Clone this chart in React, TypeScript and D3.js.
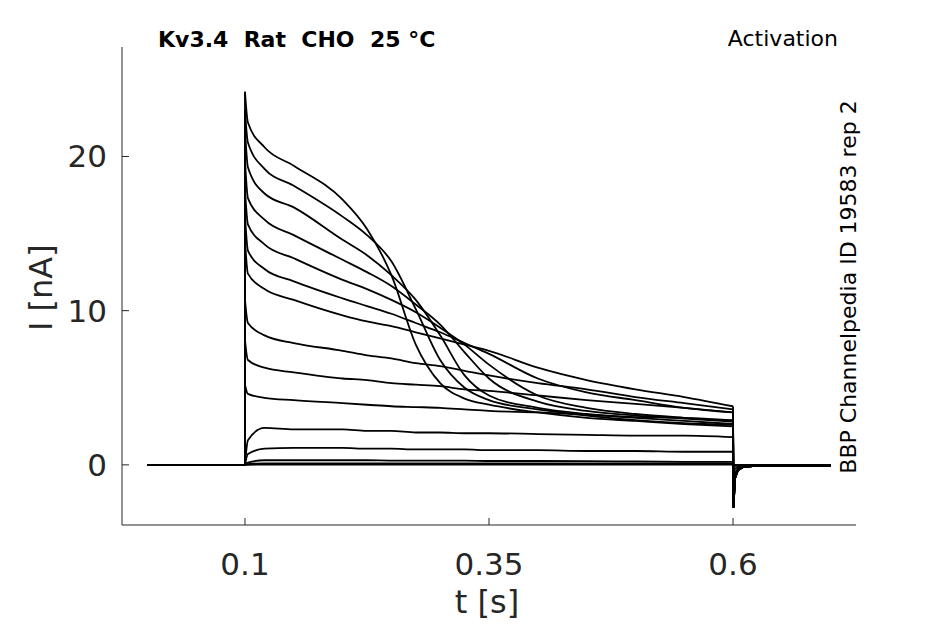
import React from "react";
import * as d3 from "d3";

const times = [0.1, 0.103, 0.12, 0.15, 0.2, 0.225, 0.25, 0.275, 0.3, 0.325, 0.35, 0.4, 0.45, 0.5, 0.55, 0.6];
const traces: number[][] = [
  [24.2, 22.2, 20.6, 19.4, 17.2, 15.3, 12.3, 7.8, 5.3, 4.3, 3.9, 3.4, 3.05, 2.85, 2.65, 2.5],
  [23.0, 20.9, 19.2, 18.1, 16.1, 14.9, 13.2, 10.1, 6.8, 5.0, 4.2, 3.6, 3.2, 2.9, 2.7, 2.6],
  [21.8, 19.3, 17.6, 16.7, 14.6, 13.6, 12.3, 10.7, 8.4, 5.8, 4.5, 3.7, 3.3, 3.05, 2.85, 2.65],
  [19.8, 17.3, 15.9, 14.9, 13.3, 12.5, 11.6, 10.4, 9.1, 7.3, 5.6, 4.1, 3.5, 3.2, 3.0, 2.8],
  [17.9, 15.6, 14.3, 13.4, 12.0, 11.4, 10.7, 9.9, 8.9, 7.8, 6.5, 4.5, 3.7, 3.3, 3.05, 2.85],
  [16.2, 13.9, 12.7, 11.9, 10.8, 10.3, 9.8, 9.2, 8.6, 7.9, 7.2, 5.6, 4.7, 4.2, 3.7, 3.4],
  [14.6, 12.4, 11.4, 10.7, 9.7, 9.3, 9.0, 8.6, 8.2, 7.8, 7.4, 6.3, 5.5, 4.9, 4.4, 3.8],
  [10.7, 9.2, 8.4, 7.9, 7.4, 7.1, 6.9, 6.6, 6.4, 6.1, 5.8, 5.3, 4.9, 4.4, 4.0, 3.6],
  [8.1, 6.8, 6.3, 6.0, 5.6, 5.5, 5.3, 5.2, 5.1, 4.9, 4.8, 4.5, 4.2, 3.96, 3.7, 3.4],
  [5.2, 4.6, 4.35, 4.2, 4.0, 3.9, 3.8, 3.75, 3.7, 3.6, 3.5, 3.4, 3.25, 3.1, 3.05, 2.9],
  [0, 1.6, 2.4, 2.3, 2.3, 2.2, 2.2, 2.1, 2.1, 2.05, 2.05, 2.0, 1.95, 1.9, 1.9, 1.8],
  [0, 0.7, 1.05, 1.1, 1.1, 1.05, 1.05, 1.0, 1.0, 1.0, 0.95, 0.95, 0.9, 0.9, 0.85, 0.85],
  [0, 0.15, 0.3, 0.3, 0.3, 0.3, 0.28, 0.28, 0.27, 0.27, 0.25, 0.25, 0.24, 0.22, 0.2, 0.2],
  [0, 0.05, 0.1, 0.1, 0.1, 0.1, 0.1, 0.1, 0.1, 0.1, 0.1, 0.1, 0.1, 0.1, 0.1, 0.1],
  [0, 0, 0.02, 0.02, 0.02, 0.02, 0.02, 0.02, 0.02, 0.02, 0.02, 0.02, 0.02, 0.02, 0.02, 0.02],
];
const tailTimes = [0.6005, 0.602, 0.605, 0.61, 0.62, 0.7];
const tailValues = [-2.8, -0.9, -0.35, -0.15, -0.08, -0.05];
const xTicks = [0.1, 0.35, 0.6];
const yTicks = [0, 10, 20];

export default function App() {
  const x = d3.scaleLinear().domain([-0.026, 0.726]).range([122, 856]);
  const y = d3.scaleLinear().domain([-3.9, 27.1]).range([525, 47]);
  const line = d3.line<[number, number]>().x(d => x(d[0])).y(d => y(d[1])).curve(d3.curveMonotoneX);
  const lin = d3.line<[number, number]>().x(d => x(d[0])).y(d => y(d[1]));
  const col = "#262626";
  return (
    <svg width={945} height={624} style={{ position: "absolute", left: 0, top: 0, background: "#fff" }}
      fontFamily="DejaVu Sans">
      {traces.map((tr, i) => {
        const body: [number, number][] = times.map((t, j) => [t, tr[j]]);
        const scale = Math.max(tr[15], 0) / 2.9;
        const tail: [number, number][] = [[0.6, tr[15]], ...tailTimes.map((t, j) => [t, tailValues[j] * Math.min(scale, 1)] as [number, number])];
        return (
          <g key={i} fill="none" stroke="#000" strokeWidth={1.8}>
            <path d={lin([[0, 0], [0.1, 0], [0.1, tr[0]]])!} />
            <path d={line(body)!} />
            <path d={lin(tail)!} />
          </g>
        );
      })}
      <g stroke={col} strokeWidth={1}>
        <line x1={122} x2={122} y1={47} y2={525} />
        <line x1={122} x2={856} y1={525} y2={525} />
        {xTicks.map(t => <line key={t} x1={x(t)} x2={x(t)} y1={525} y2={518} />)}
        {yTicks.map(t => <line key={t} x1={122} x2={129} y1={y(t)} y2={y(t)} />)}
      </g>
      {xTicks.map(t => (
        <text key={t} x={x(t)} y={575} textAnchor="middle" fontSize={31} fill={col}>{String(t)}</text>
      ))}
      {yTicks.map(t => (
        <text key={t} x={107} y={y(t) + 11} textAnchor="end" fontSize={31} fill={col}>{t}</text>
      ))}
      <text x={487} y={613} textAnchor="middle" fontSize={32} fill={col}>t [s]</text>
      <text transform={`translate(52,${y(10) - 23}) rotate(-90)`} textAnchor="middle" fontSize={32} fill={col}>I [nA]</text>
      <text x={158} y={47} fontSize={22} fontWeight="bold" fill="#000" style={{ whiteSpace: "pre" }}>Kv3.4  Rat  CHO  25 °C</text>
      <text x={838} y={46} textAnchor="end" fontSize={22} fill="#000">Activation</text>
      <text transform="translate(856,287) rotate(-90)" textAnchor="middle" fontSize={22} fill="#000">BBP Channelpedia ID 19583 rep 2</text>
    </svg>
  );
}
